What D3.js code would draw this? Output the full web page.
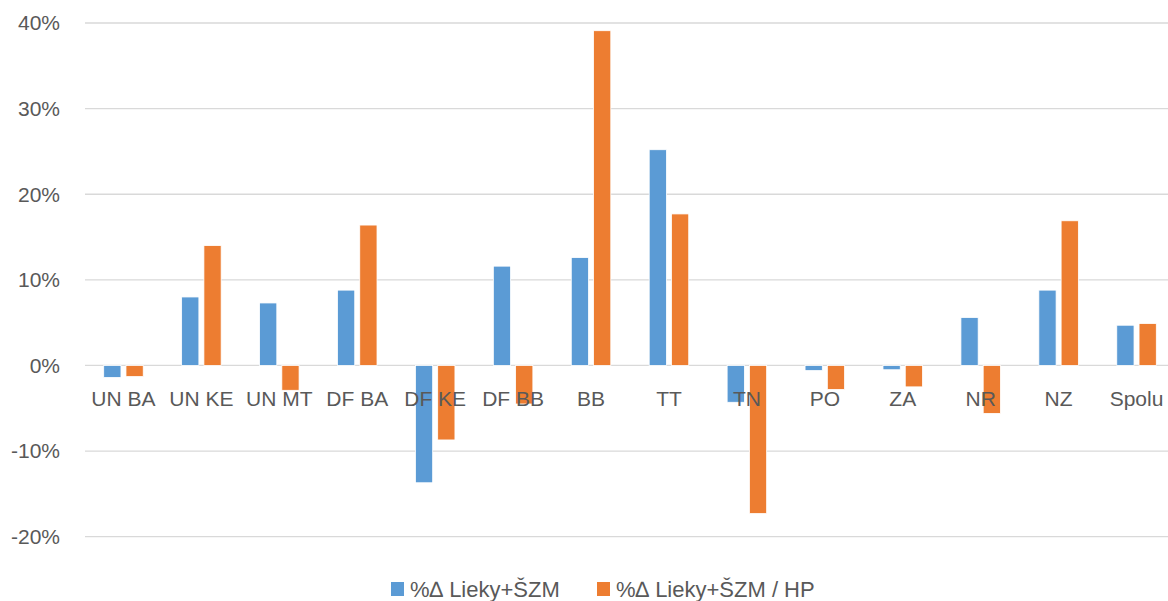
<!DOCTYPE html>
<html><head><meta charset="utf-8">
<script src="https://cdn.jsdelivr.net/npm/d3@7"></script>
<style>body{margin:0;background:#fff}svg text{font-family:"Liberation Sans",Arial,sans-serif;fill:#595959}</style>
</head><body><svg id="c" width="1168" height="601"></svg>
<script>
const categories = ["UN BA","UN KE","UN MT","DF BA","DF KE","DF BB","BB","TT","TN","PO","ZA","NR","NZ","Spolu"];
const seriesNames = ["%\u2206 Lieky+ŠZM","%\u2206 Lieky+ŠZM / HP"];
const seriesA = [-1.4, 8.0, 7.3, 8.8, -13.7, 11.6, 12.6, 25.2, -4.3, -0.6, -0.5, 5.6, 8.8, 4.7];
const seriesB = [-1.3, 14.0, -2.9, 16.4, -8.7, -4.5, 39.1, 17.7, -17.3, -2.8, -2.5, -5.6, 16.9, 4.9];
const yTicks = [-20,-10,0,10,20,30,40];
const colors = ["#5B9BD5","#ED7D31"];

(function(){
const svg = d3.select("#c");
const pLeft = 84.5, pRight = 1175.5, gridRight = 1168, pTop = 23, pBottom = 536.7;
const x = d3.scaleBand().domain(categories).range([pLeft,pRight]).paddingInner(0).paddingOuter(0);
const y = d3.scaleLinear().domain([-20,40]).range([pBottom,pTop]);
const inner = d3.scaleBand().domain([0,1]).range([19.2, x.bandwidth()-19.2]).paddingInner(0.225);

svg.append("g").selectAll("line").data(yTicks).join("line")
  .attr("x1",85).attr("x2",gridRight).attr("y1",d=>y(d)).attr("y2",d=>y(d))
  .attr("stroke","#D9D9D9").attr("stroke-width",1.3);

svg.append("g").selectAll("text").data(yTicks).join("text")
  .attr("x",60).attr("y",d=>y(d)).attr("dy","0.35em").attr("text-anchor","end")
  .style("font-size","21px").text(d=>d+"%");

const series = [seriesA, seriesB];
series.forEach((vals,si)=>{
  svg.append("g").selectAll("rect").data(vals).join("rect")
    .attr("x",(d,i)=>x(categories[i])+inner(si))
    .attr("width",inner.bandwidth())
    .attr("y",d=>Math.min(y(d),y(0)))
    .attr("height",d=>Math.abs(y(d)-y(0)))
    .attr("fill",colors[si]).attr("stroke","#fff").attr("stroke-width",0.8);
});

svg.append("g").selectAll("text").data(categories).join("text")
  .attr("x",d=>x(d)+x.bandwidth()/2).attr("y",406).attr("text-anchor","middle")
  .style("font-size","21px").text(d=>d);

const legX = [391, 597];
seriesNames.forEach((n,i)=>{
  svg.append("rect").attr("x",legX[i]).attr("y",582).attr("width",13).attr("height",14).attr("fill",colors[i]);
  svg.append("text").attr("x",legX[i]+19).attr("y",597).style("font-size","22px").text(n);
});
})();
</script></body></html>
